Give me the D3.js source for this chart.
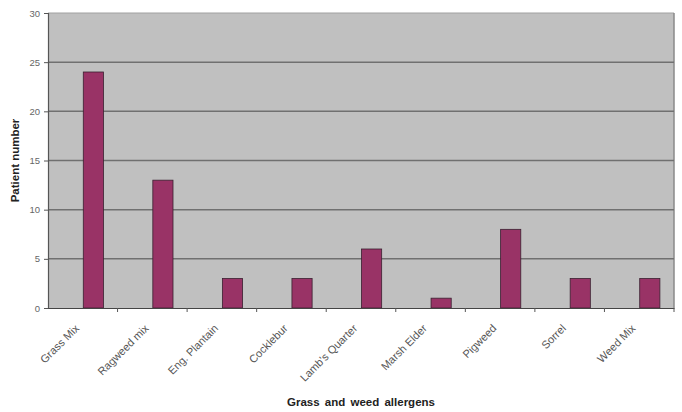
<!DOCTYPE html>
<html><head><meta charset="utf-8">
<script src="https://cdn.jsdelivr.net/npm/d3@7"></script>
<style>body{margin:0;background:#fff}svg{display:block}</style>
</head><body>
<svg id="c" width="682" height="412"></svg>
<script>
const categories = ["Grass Mix","Ragweed mix","Eng. Plantain","Cocklebur","Lamb's Quarter","Marsh Elder","Pigweed","Sorrel","Weed Mix"];
const values = [24,13,3,3,6,1,8,3,3];
const yTicks = [0,5,10,15,20,25,30];
const xTitle = "Grass and weed allergens";
const yTitle = "Patient number";

const svg = d3.select("#c");
const m = {l:48, r:674, t:13, b:308};
const x = d3.scaleBand().domain(categories).range([m.l, m.r]).paddingInner(0).paddingOuter(0);
const y = d3.scaleLinear().domain([0,30]).range([m.b, m.t]);

svg.append("rect").attr("x",m.l).attr("y",m.t).attr("width",m.r-m.l).attr("height",m.b-m.t).attr("fill","#c0c0c0");
svg.append("line").attr("x1",m.l).attr("x2",m.r).attr("y1",m.t).attr("y2",m.t).attr("stroke","#a0a0a0").attr("stroke-width",1);
svg.append("line").attr("x1",m.r).attr("x2",m.r).attr("y1",m.t).attr("y2",m.b).attr("stroke","#8a8a8a").attr("stroke-width",1.5);

svg.append("g").selectAll("line").data(yTicks.filter(d=>d>0 && d<30)).join("line")
  .attr("x1",m.l).attr("x2",m.r).attr("y1",d=>y(d)).attr("y2",d=>y(d))
  .attr("stroke","#707070").attr("stroke-width",1.5);

const bw = x.bandwidth()*0.29;
svg.append("g").selectAll("rect").data(values).join("rect")
  .attr("x",(d,i)=>x(categories[i])+x.bandwidth()/2+0.5)
  .attr("y",d=>y(d)).attr("width",bw).attr("height",d=>y(0)-y(d))
  .attr("fill","#993366").attr("stroke","#3a2030").attr("stroke-width",0.8);

const ya = svg.append("g").attr("transform",`translate(${m.l},0)`)
  .call(d3.axisLeft(y).tickValues(yTicks).tickSize(4).tickPadding(4));
ya.select(".domain").attr("stroke","#555").attr("stroke-width",1.2);
ya.selectAll(".tick line").attr("stroke","#555");
ya.selectAll("text").attr("fill","#666").style("font-family","Liberation Sans, Arial, sans-serif").style("font-size","9.5px");

const xa = svg.append("g").attr("transform",`translate(0,${m.b})`)
  .call(d3.axisBottom(x).tickSize(0).tickFormat(""));
xa.select(".domain").attr("stroke","#444").attr("stroke-width",1.2);
svg.append("g").selectAll("line").data(categories).join("line")
  .attr("x1",(d,i)=>x(d)+x.bandwidth()).attr("x2",(d,i)=>x(d)+x.bandwidth())
  .attr("y1",m.b).attr("y2",m.b+4).attr("stroke","#555");

svg.append("g").selectAll("text").data(categories).join("text")
  .attr("transform",d=>`translate(${x(d)+x.bandwidth()/2-3},${m.b+21}) rotate(-45)`)
  .attr("text-anchor","end").attr("fill","#555")
  .style("font-family","Liberation Sans, Arial, sans-serif").style("font-size","11px")
  .text(d=>d);

svg.append("text").attr("x",(m.l+m.r)/2).attr("y",406).attr("text-anchor","middle")
  .style("font-family","Liberation Sans, Arial, sans-serif").style("font-size","11.5px").style("font-weight","bold")
  .style("word-spacing","2px")
  .attr("fill","#222").text(xTitle);
svg.append("text").attr("transform",`translate(19,${(m.t+m.b)/2}) rotate(-90)`).attr("text-anchor","middle")
  .style("font-family","Liberation Sans, Arial, sans-serif").style("font-size","11.5px").style("font-weight","bold")
  .attr("fill","#222").text(yTitle);
</script>
</body></html>
